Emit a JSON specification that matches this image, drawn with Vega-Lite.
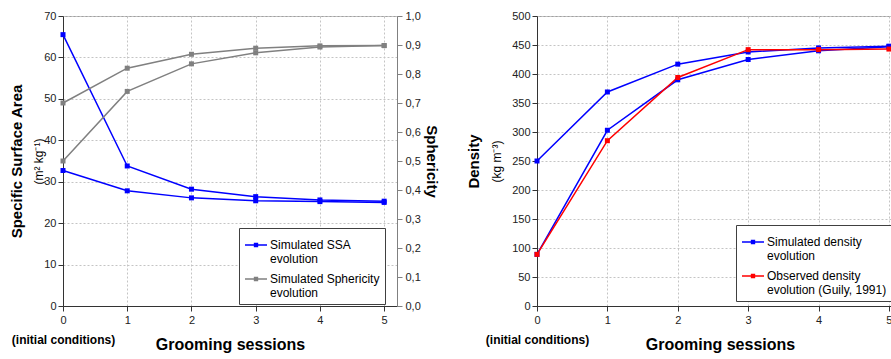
{
  "$schema": "https://vega.github.io/schema/vega-lite/v6.json",
  "padding": {"left": 9, "top": 9, "right": 0, "bottom": 0},
  "background": "white",
  "spacing": 27,
  "config": {
    "font": "Liberation Sans",
    "view": {"stroke": "#a0a0a0", "strokeWidth": 1},
    "axis": {
      "labelFont": "Liberation Sans", "labelFontSize": 11, "labelColor": "#222222",
      "titleFont": "Liberation Sans", "titleColor": "#000000",
      "domainColor": "#333333", "tickColor": "#333333",
      "gridColor": "#c4c4c4", "gridDash": [2, 2],
      "tickSize": 5, "labelPadding": 2, "labelFlush": false
    },
    "legend": {
      "labelFont": "Liberation Sans", "labelFontSize": 12, "labelColor": "#000000",
      "fillColor": "white", "strokeColor": "#404040", "padding": 5, "cornerRadius": 0,
      "symbolType": "M-1,0H1M-0.13,-0.13H0.13V0.13H-0.13Z", "symbolSize": 484, "symbolStrokeWidth": 1.5,
      "labelLimit": 0, "labelOffset": 2
    }
  },
  "datasets": {
    "ssa": [
      {"session": 0, "value": 65.5, "run": "a", "series": "Simulated SSA evolution"},
      {"session": 1, "value": 33.8, "run": "a", "series": "Simulated SSA evolution"},
      {"session": 2, "value": 28.2, "run": "a", "series": "Simulated SSA evolution"},
      {"session": 3, "value": 26.4, "run": "a", "series": "Simulated SSA evolution"},
      {"session": 4, "value": 25.6, "run": "a", "series": "Simulated SSA evolution"},
      {"session": 5, "value": 25.3, "run": "a", "series": "Simulated SSA evolution"},
      {"session": 0, "value": 32.7, "run": "b", "series": "Simulated SSA evolution"},
      {"session": 1, "value": 27.8, "run": "b", "series": "Simulated SSA evolution"},
      {"session": 2, "value": 26.1, "run": "b", "series": "Simulated SSA evolution"},
      {"session": 3, "value": 25.4, "run": "b", "series": "Simulated SSA evolution"},
      {"session": 4, "value": 25.2, "run": "b", "series": "Simulated SSA evolution"},
      {"session": 5, "value": 25.0, "run": "b", "series": "Simulated SSA evolution"}
    ],
    "sph": [
      {"session": 0, "value": 0.70, "run": "c", "series": "Simulated Sphericity evolution"},
      {"session": 1, "value": 0.82, "run": "c", "series": "Simulated Sphericity evolution"},
      {"session": 2, "value": 0.868, "run": "c", "series": "Simulated Sphericity evolution"},
      {"session": 3, "value": 0.889, "run": "c", "series": "Simulated Sphericity evolution"},
      {"session": 4, "value": 0.897, "run": "c", "series": "Simulated Sphericity evolution"},
      {"session": 5, "value": 0.898, "run": "c", "series": "Simulated Sphericity evolution"},
      {"session": 0, "value": 0.50, "run": "d", "series": "Simulated Sphericity evolution"},
      {"session": 1, "value": 0.74, "run": "d", "series": "Simulated Sphericity evolution"},
      {"session": 2, "value": 0.835, "run": "d", "series": "Simulated Sphericity evolution"},
      {"session": 3, "value": 0.873, "run": "d", "series": "Simulated Sphericity evolution"},
      {"session": 4, "value": 0.893, "run": "d", "series": "Simulated Sphericity evolution"},
      {"session": 5, "value": 0.898, "run": "d", "series": "Simulated Sphericity evolution"}
    ],
    "dens": [
      {"session": 0, "value": 250, "run": "e", "series": "Simulated density evolution"},
      {"session": 1, "value": 369, "run": "e", "series": "Simulated density evolution"},
      {"session": 2, "value": 417, "run": "e", "series": "Simulated density evolution"},
      {"session": 3, "value": 438, "run": "e", "series": "Simulated density evolution"},
      {"session": 4, "value": 445, "run": "e", "series": "Simulated density evolution"},
      {"session": 5, "value": 448, "run": "e", "series": "Simulated density evolution"},
      {"session": 0, "value": 89, "run": "f", "series": "Simulated density evolution"},
      {"session": 1, "value": 303, "run": "f", "series": "Simulated density evolution"},
      {"session": 2, "value": 390, "run": "f", "series": "Simulated density evolution"},
      {"session": 3, "value": 425, "run": "f", "series": "Simulated density evolution"},
      {"session": 4, "value": 440, "run": "f", "series": "Simulated density evolution"},
      {"session": 5, "value": 447, "run": "f", "series": "Simulated density evolution"},
      {"session": 0, "value": 89, "run": "g", "series": "Observed density evolution (Guily, 1991)"},
      {"session": 1, "value": 285, "run": "g", "series": "Observed density evolution (Guily, 1991)"},
      {"session": 2, "value": 394, "run": "g", "series": "Observed density evolution (Guily, 1991)"},
      {"session": 3, "value": 442, "run": "g", "series": "Observed density evolution (Guily, 1991)"},
      {"session": 4, "value": 442, "run": "g", "series": "Observed density evolution (Guily, 1991)"},
      {"session": 5, "value": 443, "run": "g", "series": "Observed density evolution (Guily, 1991)"}
    ]
  },
  "hconcat": [
    {
      "width": 334,
      "height": 290,
      "layer": [
        {
          "data": {"name": "ssa"},
          "mark": {"type": "line", "strokeWidth": 1.5, "point": {"shape": "square", "filled": true, "size": 25}},
          "encoding": {
            "x": {"field": "session", "type": "quantitative", "scale": {"domain": [0, 5.2], "nice": false, "zero": false},
              "axis": {"orient": "bottom", "values": [0, 1, 2, 3, 4, 5], "grid": true, "title": "Grooming sessions", "titleFontSize": 16, "titleFontWeight": "bold", "titlePadding": 11, "labelPadding": 3}},
            "y": {"field": "value", "type": "quantitative", "scale": {"domain": [0, 70], "nice": false},
              "axis": {"orient": "left", "values": [0, 10, 20, 30, 40, 50, 60, 70], "grid": true, "title": "Specific Surface Area", "titleFontSize": 15, "titleFontWeight": "bold", "titlePadding": 19}},
            "color": {"field": "series", "type": "nominal",
              "scale": {"domain": ["Simulated SSA evolution", "Simulated Sphericity evolution"], "range": ["#0000ff", "#808080"]},
              "legend": {"orient": "none", "legendX": 176, "legendY": 212, "title": null,
                "labelExpr": "datum.label == 'Simulated SSA evolution' ? ['Simulated SSA', 'evolution'] : ['Simulated Sphericity', 'evolution']"}},
            "detail": {"field": "run"}
          }
        },
        {
          "data": {"name": "sph"},
          "mark": {"type": "line", "strokeWidth": 1.5, "point": {"shape": "square", "filled": true, "size": 25}},
          "encoding": {
            "x": {"field": "session", "type": "quantitative", "scale": {"domain": [0, 5.2], "nice": false, "zero": false}, "axis": null},
            "y": {"field": "value", "type": "quantitative", "scale": {"domain": [0, 1], "nice": false},
              "axis": {"orient": "right", "values": [0, 0.1, 0.2, 0.3, 0.4, 0.5, 0.6, 0.7, 0.8, 0.9, 1.0], "labelExpr": "replace(format(datum.value, '.1f'), '.', ',')", "grid": false, "domainColor": "#808080", "tickColor": "#808080", "title": "Sphericity", "titleFontSize": 15, "titleFontWeight": "bold", "titlePadding": 3, "labelPadding": 3}},
            "color": {"field": "series", "type": "nominal"},
            "detail": {"field": "run"}
          }
        },
        {
          "data": {"name": "ssa"},
          "mark": {"type": "line", "opacity": 0},
          "encoding": {
            "x": {"field": "session", "type": "quantitative", "scale": {"domain": [0, 5.2], "nice": false, "zero": false},
              "axis": {"orient": "bottom", "values": [0], "labelExpr": "'(initial conditions)'", "labelFontWeight": "bold", "labelFontSize": 12, "labelColor": "#000000", "ticks": false, "tickSize": 0, "domain": false, "grid": false, "labelPadding": 28, "title": null}},
            "y": {"field": "value", "type": "quantitative", "scale": {"domain": [0, 70], "nice": false},
              "axis": {"orient": "left", "labels": false, "ticks": false, "tickSize": 0, "domain": false, "grid": false, "title": "(m² kg⁻¹)", "titleFontSize": 12, "titleFontWeight": "normal", "titlePadding": 18}},
            "detail": {"field": "run"}
          }
        }
      ],
      "resolve": {"scale": {"x": "independent", "y": "independent"}}
    },
    {
      "width": 366,
      "height": 290,
      "layer": [
        {
          "data": {"name": "dens"},
          "mark": {"type": "line", "strokeWidth": 1.5, "point": {"shape": "square", "filled": true, "size": 25}},
          "encoding": {
            "x": {"field": "session", "type": "quantitative", "scale": {"domain": [0, 5.2], "nice": false, "zero": false},
              "axis": {"orient": "bottom", "values": [0, 1, 2, 3, 4, 5], "grid": true, "title": "Grooming sessions", "titleFontSize": 16, "titleFontWeight": "bold", "titlePadding": 11, "labelPadding": 3}},
            "y": {"field": "value", "type": "quantitative", "scale": {"domain": [0, 500], "nice": false},
              "axis": {"orient": "left", "values": [0, 50, 100, 150, 200, 250, 300, 350, 400, 450, 500], "grid": true, "title": "Density", "titleFontSize": 15, "titleFontWeight": "bold", "titlePadding": 30}},
            "color": {"field": "series", "type": "nominal",
              "scale": {"domain": ["Simulated density evolution", "Observed density evolution (Guily, 1991)"], "range": ["#0000ff", "#ff0000"]},
              "legend": {"orient": "none", "legendX": 199, "legendY": 209, "title": null,
                "labelExpr": "datum.label == 'Simulated density evolution' ? ['Simulated density', 'evolution'] : ['Observed density', 'evolution (Guily, 1991)']"}},
            "detail": {"field": "run"}
          }
        },
        {
          "data": {"name": "dens"},
          "mark": {"type": "line", "opacity": 0},
          "encoding": {
            "x": {"field": "session", "type": "quantitative", "scale": {"domain": [0, 5.2], "nice": false, "zero": false},
              "axis": {"orient": "bottom", "values": [0], "labelExpr": "'(initial conditions)'", "labelFontWeight": "bold", "labelFontSize": 12, "labelColor": "#000000", "ticks": false, "tickSize": 0, "domain": false, "grid": false, "labelPadding": 28, "title": null}},
            "y": {"field": "value", "type": "quantitative", "scale": {"domain": [0, 500], "nice": false},
              "axis": {"orient": "left", "labels": false, "ticks": false, "tickSize": 0, "domain": false, "grid": false, "title": "(kg m⁻³)", "titleFontSize": 12, "titleFontWeight": "normal", "titlePadding": 34}},
            "detail": {"field": "run"}
          }
        }
      ],
      "resolve": {"scale": {"x": "independent", "y": "independent"}}
    }
  ],
  "resolve": {"scale": {"color": "independent"}, "legend": {"color": "independent"}}
}
